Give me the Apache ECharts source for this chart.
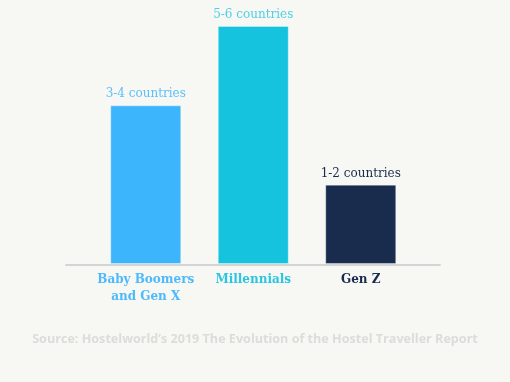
<!DOCTYPE html>
<html><head><meta charset="utf-8">
<script src="https://cdn.jsdelivr.net/npm/echarts@6/dist/echarts.min.js"></script>
<style>html,body{margin:0;padding:0;background:#f7f7f3}#c{width:510px;height:382px}</style>
</head><body><div id="c"></div>
<script>
const categories = ['Baby Boomers\nand Gen X', 'Millennials', 'Gen Z'];
const values = [4, 6, 2];
const valueLabels = ['3-4 countries', '5-6 countries', '1-2 countries'];
const barColors = ['#3db5fd', '#15c3df', '#1a2c4e'];
const labelColors = ['#5cc0fc', '#4fd0e6', '#1a2c4e'];
const catColors = ['#4dbafc', '#29c6e2', '#1a2c4e'];
const source = 'Source: Hostelworld\u2019s 2019 The Evolution of the Hostel Traveller Report';

const catStyle = c => ({color: c, fontFamily: 'DejaVu Serif', fontWeight: 'bold', fontSize: 12, lineHeight: 17});
const chart = echarts.init(document.getElementById('c'));
chart.setOption({
  backgroundColor: '#f7f7f3',
  animation: false,
  title: {
    text: source, left: 'center', top: 328,
    textStyle: {fontFamily: 'Open Sans', fontWeight: 'bold', fontSize: 12.6, color: '#dcdcda'}
  },
  grid: [
    {left: 92, width: 322.5, top: 26, bottom: 118},
    {left: 66, width: 374, top: 26, bottom: 117}
  ],
  xAxis: [
    {type: 'category', gridIndex: 0, data: categories,
     axisLine: {show: false}, axisTick: {show: false},
     axisLabel: {margin: 7, interval: 0, fontFamily: 'DejaVu Serif', fontWeight: 'bold', fontSize: 12, lineHeight: 17,
       formatter: (v, i) => '{c' + i + '|' + v.split('\n').join('}\n{c' + i + '|') + '}',
       rich: {c0: catStyle(catColors[0]), c1: catStyle(catColors[1]), c2: catStyle(catColors[2])}}},
    {type: 'value', gridIndex: 1, min: 0, max: 1,
     axisLine: {show: true, lineStyle: {color: '#d4d4d4', width: 2}},
     axisTick: {show: false}, axisLabel: {show: false}, splitLine: {show: false}}
  ],
  yAxis: [
    {type: 'value', gridIndex: 0, min: 0, max: 6, show: false, splitLine: {show: false}},
    {type: 'value', gridIndex: 1, min: 0, max: 1, show: false, splitLine: {show: false}}
  ],
  series: [{
    type: 'bar', xAxisIndex: 0, yAxisIndex: 0, barWidth: 71,
    data: values.map((v, i) => ({
      value: v,
      itemStyle: {color: barColors[i], borderColor: 'rgba(255,255,255,0.35)', borderWidth: 1},
      label: {show: true, position: 'top', distance: 5, formatter: valueLabels[i],
        color: labelColors[i], fontFamily: 'DejaVu Serif', fontSize: 12}
    }))
  }]
});
</script></body></html>
